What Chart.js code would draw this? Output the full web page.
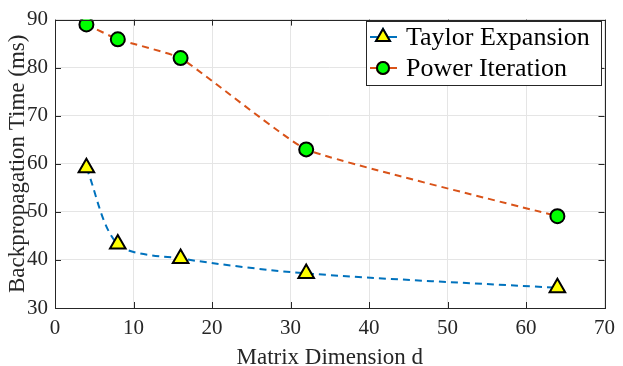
<!DOCTYPE html>
<html>
<head>
<meta charset="utf-8">
<script src="https://cdn.jsdelivr.net/npm/chart.js@4"></script>
<style>
  html, body { margin: 0; padding: 0; background: #fff; }
  #wrap { width: 623px; height: 366px; }
</style>
</head>
<body>
<div id="wrap"><canvas id="chart" width="623" height="366"></canvas></div>
<script>
// matrix dimension d
const dims = [4, 8, 16, 32, 64];
// backprop time in ms
const taylorTimes = [59.2, 43.3, 40.3, 37.2, 34.2];
const powerTimes = [89, 85.9, 82, 63, 49.1];
const xTicks = [0, 10, 20, 30, 40, 50, 60, 70];
const yTicks = [30, 40, 50, 60, 70, 80, 90];

const FONT = "'Liberation Serif', 'Times New Roman', serif";
const AXIS = '#262626';

const toPoints = (xs, ys) => xs.map((x, i) => ({ x: x, y: ys[i] }));

// box around the plot + inward ticks on all four sides, MATLAB style
const boxTicks = {
  id: 'boxTicks',
  afterDraw(chart) {
    const { ctx, chartArea: a, scales } = chart;
    ctx.save();
    ctx.strokeStyle = AXIS;
    ctx.lineWidth = 1;
    ctx.beginPath();
    xTicks.forEach(v => {
      const px = Math.round(scales.x.getPixelForValue(v)) + 0.5;
      ctx.moveTo(px, a.bottom); ctx.lineTo(px, a.bottom - 6);
      ctx.moveTo(px, a.top); ctx.lineTo(px, a.top + 6);
    });
    yTicks.forEach(v => {
      const py = Math.round(scales.y.getPixelForValue(v)) + 0.5;
      ctx.moveTo(a.left, py); ctx.lineTo(a.left + 6, py);
      ctx.moveTo(a.right, py); ctx.lineTo(a.right - 6, py);
    });
    ctx.stroke();
    ctx.strokeRect(Math.round(a.left) + 0.5, Math.round(a.top) + 0.5,
      Math.round(a.right - a.left), Math.round(a.bottom - a.top));
    ctx.restore();
  }
};

// legend with line sample and marker, drawn inside the axes
const boxLegend = {
  id: 'boxLegend',
  afterDraw(chart) {
    const { ctx } = chart;
    const x0 = 366, y0 = 21, w = 235, h = 64;
    ctx.save();
    ctx.fillStyle = '#fff';
    ctx.fillRect(x0, y0, w, h);
    ctx.strokeStyle = '#262626';
    ctx.lineWidth = 1;
    ctx.strokeRect(x0 + 0.5, y0 + 0.5, w, h);
    chart.data.datasets.forEach((ds, i) => {
      const cy = y0 + 16 + i * 31;
      ctx.strokeStyle = ds.borderColor;
      ctx.lineWidth = 2;
      ctx.setLineDash([]);
      ctx.beginPath();
      ctx.moveTo(x0 + 4, cy); ctx.lineTo(x0 + 31, cy);
      ctx.stroke();
      Chart.helpers.drawPoint(ctx, {
        pointStyle: ds.pointStyle, radius: ds.pointRadius - 1, borderWidth: ds.pointBorderWidth
      }, x0 + 17, cy);
      ctx.fillStyle = ds.pointBackgroundColor;
      ctx.strokeStyle = '#000';
      ctx.lineWidth = ds.pointBorderWidth;
      ctx.fill();
      ctx.stroke();
      ctx.fillStyle = '#000';
      ctx.font = '26px ' + FONT;
      ctx.textBaseline = 'middle';
      ctx.textAlign = 'left';
      ctx.fillText(ds.label, x0 + 40, cy + 1);
    });
    ctx.restore();
  }
};

new Chart(document.getElementById('chart'), {
  type: 'line',
  data: {
    datasets: [{
      label: 'Taylor Expansion',
      data: toPoints(dims, taylorTimes),
      borderColor: '#0072BD',
      borderWidth: 2,
      borderDash: [7, 5],
      tension: 0.3,
      pointStyle: 'triangle',
      pointRadius: 9,
      pointBorderWidth: 2,
      pointBackgroundColor: '#FFFF00',
      pointBorderColor: '#000'
    }, {
      label: 'Power Iteration',
      data: toPoints(dims, powerTimes),
      borderColor: '#D95319',
      borderWidth: 2,
      borderDash: [7, 5],
      tension: 0.12,
      pointStyle: 'circle',
      pointRadius: 7,
      pointBorderWidth: 2,
      pointBackgroundColor: '#00FF00',
      pointBorderColor: '#000'
    }]
  },
  options: {
    responsive: false,
    animation: false,
    layout: { padding: { top: 9, right: 12, left: 0, bottom: 0 } },
    plugins: { legend: { display: false }, tooltip: { enabled: false } },
    scales: {
      x: {
        type: 'linear',
        min: 0, max: 70,
        afterBuildTicks: s => { s.ticks = xTicks.map(v => ({ value: v })); },
        afterFit: s => { s.height = 58; },
        grid: { color: '#e5e5e5', drawTicks: false },
        border: { display: false },
        ticks: { color: AXIS, padding: 8, font: { family: FONT, size: 21 }, maxRotation: 0 },
        title: { display: true, text: 'Matrix Dimension d', color: AXIS, padding: { top: 0, bottom: -6 },
          font: { family: FONT, size: 23 } }
      },
      y: {
        min: 30, max: 90,
        afterBuildTicks: s => { s.ticks = yTicks.map(v => ({ value: v })); },
        afterFit: s => { s.width = 55; },
        grid: { color: '#e5e5e5', drawTicks: false },
        border: { display: false },
        ticks: { color: AXIS, padding: 7, font: { family: FONT, size: 21 } },
        title: { display: true, text: 'Backpropagation Time (ms)', color: AXIS, padding: { bottom: 0 },
          font: { family: FONT, size: 23 } }
      }
    }
  },
  plugins: [boxTicks, boxLegend]
});
</script>
</body>
</html>
